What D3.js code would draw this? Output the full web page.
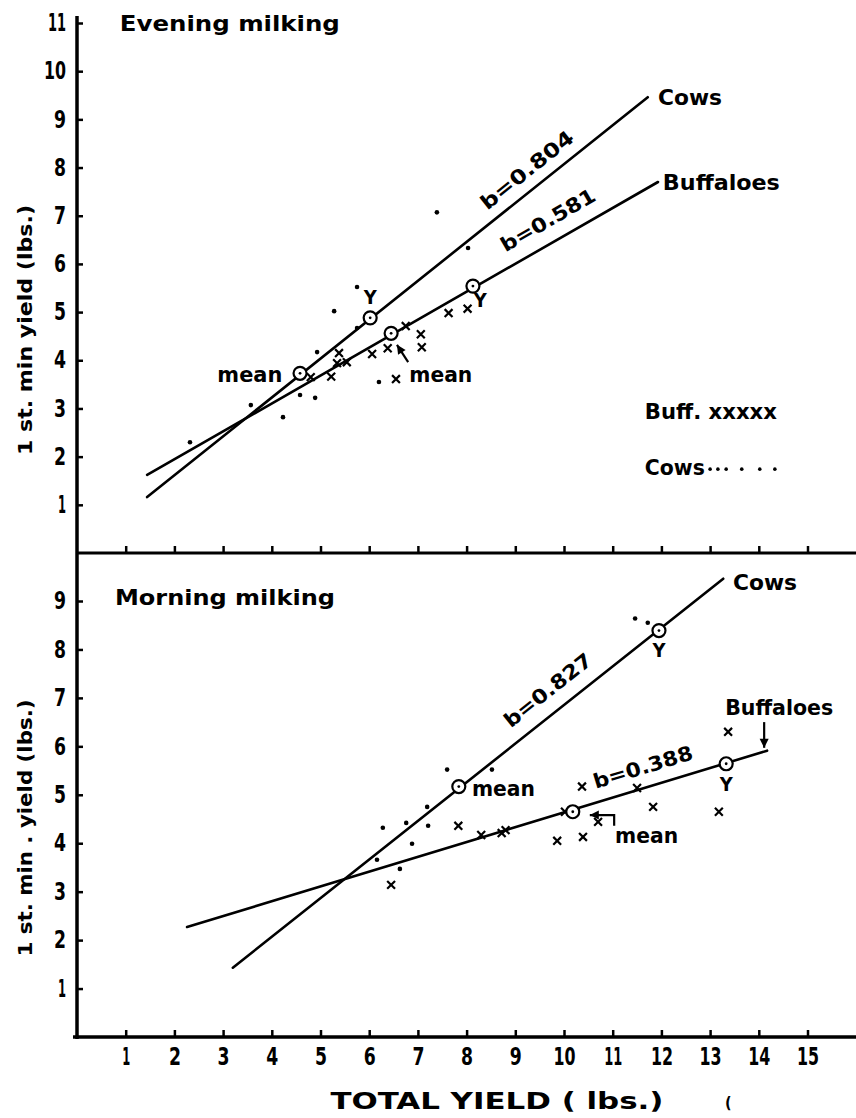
<!DOCTYPE html>
<html><head><meta charset="utf-8">
<script src="https://cdn.jsdelivr.net/npm/d3@7"></script>
<style>
body{margin:0;background:#fff}
svg{display:block}
text{font-family:"Liberation Sans Narrow","DejaVu Sans Condensed","DejaVu Sans",sans-serif;font-weight:bold;fill:#000}
</style>
</head><body>
<svg id="c" width="856" height="1118"></svg>
<script>
// ---------- data ----------
const xTicks = [1,2,3,4,5,6,7,8,9,10,11,12,13,14,15];
const yTicksTop = [1,2,3,4,5,6,7,8,9,10,11];
const yTicksBot = [1,2,3,4,5,6,7,8,9];

// Evening milking: individual animals (total yield, 1st-min yield)
const cowsEvening = [[2.32,2.30],[3.57,3.07],[4.23,2.82],[4.58,3.28],[4.89,3.22],[4.93,4.17],
  [5.28,5.02],[5.75,5.52],[5.75,4.67],[6.20,3.55],[7.39,7.07],[8.03,6.33]];
const buffEvening = [[4.80,3.65],[5.22,3.66],[5.34,3.94],[5.38,4.15],[5.54,3.96],[6.06,4.13],
  [6.38,4.25],[6.55,3.61],[6.75,4.71],[7.06,4.54],[7.08,4.27],[7.63,4.98],[8.02,5.07]];
// Morning milking
const cowsMorning = [[6.16,3.66],[6.28,4.32],[6.63,3.47],[6.76,4.42],[6.88,3.99],[7.19,4.75],
  [7.21,4.36],[7.60,5.52],[8.52,5.52],[11.46,8.64],[11.72,8.55]];
const buffMorning = [[6.45,3.14],[7.83,4.36],[8.30,4.17],[8.72,4.21],[8.80,4.27],[9.86,4.05],
  [10.02,4.65],[10.37,5.17],[10.39,4.13],[10.70,4.44],[11.50,5.14],[11.83,4.75],[13.18,4.65],[13.37,6.30]];

// regression lines (end points)
const fitCowsEvening = [[1.44,1.16],[11.72,9.46]];
const fitBuffEvening = [[1.44,1.62],[11.93,7.70]];
const fitCowsMorning = [[3.20,1.43],[13.27,9.46]];
const fitBuffMorning = [[2.26,2.27],[14.17,5.91]];

// ringed points: cows mean, cows Y, buffaloes mean, buffaloes Y
const ringsEvening = [[4.58,3.73],[6.02,4.88],[6.45,4.56],[8.13,5.54]];
const ringsMorning = [[7.84,5.17],[11.95,8.39],[10.18,4.65],[13.33,5.64]];

const slopesEvening = ["b=0.804","b=0.581"];
const slopesMorning = ["b=0.827","b=0.388"];
const legendCowDots = [13.0,13.16,13.33,13.65,14.02,14.33];

// ---------- scales ----------
const svg = d3.select("#c");
const x = d3.scaleLinear().domain([0,15]).range([77,807.5]);
const yTop = d3.scaleLinear().domain([0,11]).range([553,23]);
const yBot = d3.scaleLinear().domain([0,9]).range([1037,601]);

function txt(g, s, px, py, o={}) {
  const t = g.append("text").attr("x",px).attr("y",py).text(s)
    .attr("font-size", o.size||22).attr("dominant-baseline","central")
    .attr("text-anchor", o.anchor||"start");
  if (o.w) t.attr("textLength", o.w).attr("lengthAdjust","spacingAndGlyphs");
  if (o.rot!=null) t.attr("transform", `rotate(${o.rot},${px},${py})`);
  return t;
}
const tickW = d => d===1 ? 8 : (d===11 ? 18 : (d>=10 ? 22 : 12));

// ---------- axes ----------
const ax = svg.append("g");
function yAxis(scale, ticks) {
  const g = ax.append("g").attr("transform","translate(77,0)")
    .call(d3.axisLeft(scale).tickValues(ticks).tickSizeInner(-6).tickSizeOuter(0).tickPadding(11));
  g.select(".domain").remove();
  g.selectAll(".tick line").attr("stroke","#000").attr("stroke-width",2.5);
  g.selectAll(".tick text").attr("font-size",24).attr("font-family",null)
    .attr("textLength", d=>tickW(d)).attr("lengthAdjust","spacingAndGlyphs");
}
yAxis(yTop, yTicksTop);
yAxis(yBot, yTicksBot);
function xAxis(yPos, labels) {
  const g = ax.append("g").attr("transform",`translate(0,${yPos})`)
    .call(d3.axisBottom(x).tickValues(xTicks).tickSizeInner(-7).tickSizeOuter(0).tickPadding(11)
      .tickFormat(labels ? d3.format("d") : ""));
  g.select(".domain").remove();
  g.selectAll(".tick line").attr("stroke","#000").attr("stroke-width",2.5);
  g.selectAll(".tick text").attr("font-size",24).attr("font-family",null)
    .attr("textLength", d=>tickW(d)).attr("lengthAdjust","spacingAndGlyphs");
}
xAxis(yTop(0), false);
xAxis(yBot(0), true);
ax.append("line").attr("x1",x(0)).attr("x2",x(0)).attr("y1",16).attr("y2",yBot(0)+2)
  .attr("stroke","#000").attr("stroke-width",3.5);
ax.append("line").attr("x1",x(0)).attr("x2",856).attr("y1",yTop(0)).attr("y2",yTop(0))
  .attr("stroke","#000").attr("stroke-width",3);
ax.append("line").attr("x1",x(0)-4).attr("x2",856).attr("y1",yBot(0)).attr("y2",yBot(0))
  .attr("stroke","#000").attr("stroke-width",3.5);

// axis titles
txt(svg, "1 st. min yield (lbs.)", 25, 330, {size:20, anchor:"middle", w:250, rot:-90});
txt(svg, "1 st. min . yield (lbs.)", 25, 828, {size:20, anchor:"middle", w:257, rot:-90});
txt(svg, "TOTAL  YIELD ( lbs.)", 497, 1101, {size:23, anchor:"middle", w:333});
txt(svg, "(", 725, 1102, {size:16});

// ---------- panels ----------
const sx = d3.symbol().type(d3.symbolX).size(42);
function panel(y, cows, buff, fits, rings) {
  const g = svg.append("g");
  const line = d3.line().x(d=>x(d[0])).y(d=>y(d[1]));
  fits.forEach(f => g.append("path").attr("d", line(f)).attr("fill","none")
    .attr("stroke","#000").attr("stroke-width",2.6).attr("stroke-linecap","round"));
  g.selectAll(".cow").data(cows).join("circle").attr("cx",d=>x(d[0])).attr("cy",d=>y(d[1]))
    .attr("r",2.3).attr("fill","#000");
  g.selectAll(".buf").data(buff).join("path").attr("d",sx)
    .attr("transform",d=>`translate(${x(d[0])},${y(d[1])})`)
    .attr("fill","none").attr("stroke","#000").attr("stroke-width",2.2);
  rings.forEach(r => {
    g.append("circle").attr("cx",x(r[0])).attr("cy",y(r[1])).attr("r",6.5)
      .attr("fill","#fff").attr("stroke","#000").attr("stroke-width",2.2);
    g.append("circle").attr("cx",x(r[0])).attr("cy",y(r[1])).attr("r",1.4).attr("fill","#000");
  });
  const ang = f => Math.atan2(y(f[1][1])-y(f[0][1]), x(f[1][0])-x(f[0][0]))*180/Math.PI;
  return {g, ang};
}
function arrow(g, pts, y) {
  const line = d3.line().x(d=>x(d[0])).y(d=>y(d[1]));
  g.append("path").attr("d", line(pts)).attr("fill","none").attr("stroke","#000").attr("stroke-width",2.2);
  const a = pts[pts.length-1], b = pts[pts.length-2];
  const ax2 = x(a[0]), ay2 = y(a[1]);
  const th = Math.atan2(ay2 - y(b[1]), ax2 - x(b[0]));
  const L = 9, W = 4.5;
  const p1 = [ax2 - L*Math.cos(th) + W*Math.sin(th), ay2 - L*Math.sin(th) - W*Math.cos(th)];
  const p2 = [ax2 - L*Math.cos(th) - W*Math.sin(th), ay2 - L*Math.sin(th) + W*Math.cos(th)];
  g.append("path").attr("d",`M${ax2},${ay2}L${p1[0]},${p1[1]}L${p2[0]},${p2[1]}Z`).attr("fill","#000");
}

// Evening
const E = panel(yTop, cowsEvening, buffEvening, [fitCowsEvening, fitBuffEvening], ringsEvening);
txt(E.g, "Evening  milking", x(0.88), yTop(11), {size:22, w:220});
txt(E.g, "Cows", x(11.93), yTop(9.46), {w:64});
txt(E.g, "Buffaloes", x(12.03), yTop(7.70), {w:117});
txt(E.g, slopesEvening[0], x(9.24), yTop(7.95), {size:20, anchor:"middle", w:113, rot:E.ang(fitCowsEvening)});
txt(E.g, slopesEvening[1], x(9.67), yTop(6.91), {size:20, anchor:"middle", w:106, rot:E.ang(fitBuffEvening)});
txt(E.g, "mean", x(3.55), yTop(3.70), {anchor:"middle", w:65});
txt(E.g, "mean", x(7.47), yTop(3.70), {anchor:"middle", w:63});
txt(E.g, "Y", x(6.02), yTop(5.31), {size:20, anchor:"middle"});
txt(E.g, "Y", x(8.28), yTop(5.25), {size:20, anchor:"middle"});
arrow(E.g, [[6.80,3.96],[6.57,4.32]], yTop);
txt(E.g, "Buff. xxxxx", x(11.66), yTop(2.93), {w:132});
txt(E.g, "Cows", x(11.66), yTop(1.78), {w:60});
E.g.selectAll(".ld").data(legendCowDots).join("circle").attr("cx",d=>x(d)).attr("cy",yTop(1.74))
  .attr("r",1.8).attr("fill","#000");

// Morning
const M = panel(yBot, cowsMorning, buffMorning, [fitCowsMorning, fitBuffMorning], ringsMorning);
txt(M.g, "Morning  milking", x(0.78), yBot(9.08), {size:22, w:220});
txt(M.g, "Cows", x(13.47), yBot(9.39), {w:64});
txt(M.g, "Buffaloes", x(13.31), yBot(6.81), {w:108});
arrow(M.g, [[14.11,6.50],[14.11,5.97]], yBot);
txt(M.g, slopesMorning[0], x(9.67), yBot(7.16), {size:20, anchor:"middle", w:106, rot:M.ang(fitCowsMorning)});
txt(M.g, slopesMorning[1], x(11.62), yBot(5.57), {size:20, anchor:"middle", w:103, rot:M.ang(fitBuffMorning)});
txt(M.g, "mean", x(8.11), yBot(5.12), {w:63});
txt(M.g, "mean", x(11.05), yBot(4.15), {w:63});
arrow(M.g, [[11.03,4.36],[11.03,4.58],[10.53,4.58]], yBot);
txt(M.g, "Y", x(11.95), yBot(7.99), {size:20, anchor:"middle"});
txt(M.g, "Y", x(13.33), yBot(5.22), {size:20, anchor:"middle"});
</script>
</body></html>
